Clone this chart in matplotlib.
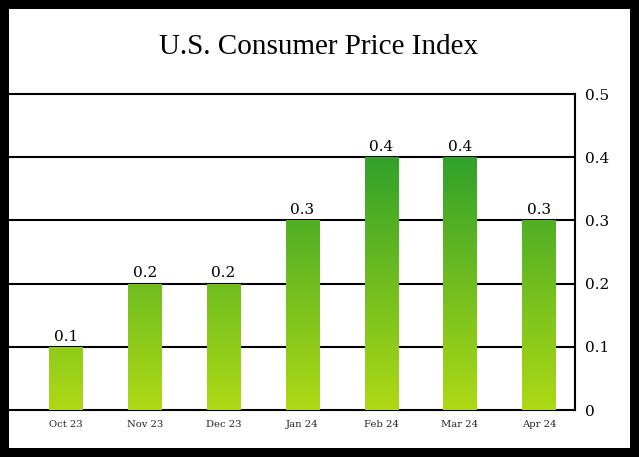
import numpy as np
import matplotlib.pyplot as plt
from matplotlib.colors import LinearSegmentedColormap
from matplotlib.patches import Rectangle

# data
months = ['Oct 23', 'Nov 23', 'Dec 23', 'Jan 24', 'Feb 24', 'Mar 24', 'Apr 24']
cpi = [0.1, 0.2, 0.2, 0.3, 0.4, 0.4, 0.3]
yticks = [0, 0.1, 0.2, 0.3, 0.4, 0.5]

W, H = 639, 457
fig = plt.figure(figsize=(W / 100, H / 100), dpi=100, facecolor='black')

# white card inside the black frame
fig.patches.append(Rectangle((9 / W, 9 / H), 621 / W, 439 / H,
                             transform=fig.transFigure, facecolor='white',
                             edgecolor='none', zorder=-5))

fig.text(319 / W, 1 - 54 / H, 'U.S. Consumer Price Index',
         family='Liberation Serif', fontsize=21, ha='center', va='baseline')

ax = fig.add_axes([9 / W, 1 - 410 / H, 566 / W, 316 / H])
ax.set_zorder(2)
ax.set_facecolor('none')

x = np.arange(len(months))
xlim = (-0.723, 6.459)

# green gradient, dark at the top, yellow-green at the bottom (axis based)
cmap = LinearSegmentedColormap.from_list(
    'cpi', [(0.0, '#aed915'), (0.8, '#31a12a'), (1.0, '#20982e')])
grad = np.linspace(0, 1, 256).reshape(-1, 1)

bars = ax.bar(x, cpi, width=0.42, color='none', edgecolor='none', zorder=3)
for b in bars:
    im = ax.imshow(grad, cmap=cmap, origin='lower', aspect='auto',
                   extent=[xlim[0], xlim[1], 0, 0.5], zorder=3)
    im.set_clip_path(b)
ax.set_xlim(*xlim)
ax.set_ylim(0, 0.5)

for xi, v in zip(x, cpi):
    ax.annotate(f'{v:g}', (xi, v), xytext=(0, 4.5), textcoords='offset points',
                ha='center', va='baseline', family='DejaVu Serif', fontsize=11)

# horizontal lines
for t in yticks:
    ax.axhline(t, color='black', lw=1.5, zorder=2, clip_on=False)

for s in ['left', 'top', 'bottom']:
    ax.spines[s].set_visible(False)
ax.spines['right'].set_linewidth(1.5)
ax.spines['right'].set_color('black')
ax.spines['right'].set_capstyle('projecting')

ax.yaxis.tick_right()
ax.set_yticks(yticks)
ax.set_yticklabels([f'{t:g}' for t in yticks], family='DejaVu Serif',
                   fontsize=11)
ax.tick_params(axis='y', length=0, pad=7)

ax.set_xticks(x)
ax.set_xticklabels(months, family='DejaVu Serif', fontsize=7.2,
                   color='#222222')
ax.tick_params(axis='x', length=0, pad=7)

fig.savefig('out.png', dpi=100, facecolor='black')
